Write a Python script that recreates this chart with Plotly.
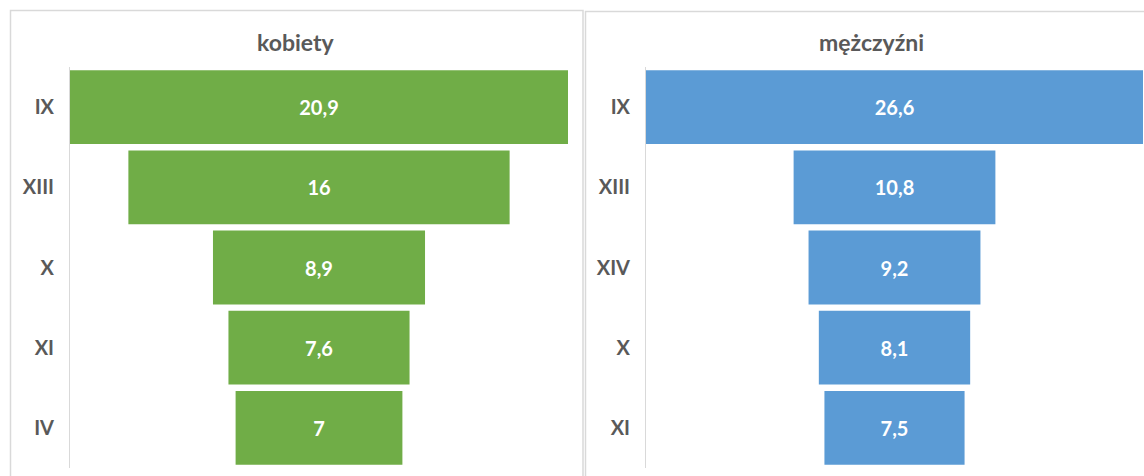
import plotly.graph_objects as go

# Women: top five groups
women_labels = ["IX", "XIII", "X", "XI", "IV"]
women_values = [20.9, 16, 8.9, 7.6, 7]

# Men: top five groups
men_labels = ["IX", "XIII", "XIV", "X", "XI"]
men_values = [26.6, 10.8, 9.2, 8.1, 7.5]

panel_titles = ["kobiety", "mężczyźni"]

W, H = 1144, 476
GREEN = "#70AD47"
BLUE = "#5B9BD5"
GREY_TEXT = "#595959"
BORDER = "#D9D9D9"
FONT = "Lato"


def px_x(v):
    return v / W


def px_y(v):
    return 1 - v / H


fig = go.Figure()

fig.add_trace(go.Funnel(
    y=women_labels, x=women_values,
    marker=dict(color=GREEN, line=dict(width=0)),
    connector=dict(visible=False),
    textposition="inside", texttemplate="%{x}",
    textfont=dict(color="white", size=20, family=FONT, weight="bold"),
    constraintext="none",
    xaxis="x", yaxis="y", hoverinfo="skip",
))
fig.add_trace(go.Funnel(
    y=men_labels, x=men_values,
    marker=dict(color=BLUE, line=dict(width=0)),
    connector=dict(visible=False),
    textposition="inside", texttemplate="%{x}",
    textfont=dict(color="white", size=20, family=FONT, weight="bold"),
    constraintext="none",
    xaxis="x2", yaxis="y2", hoverinfo="skip",
))

y_dom = [px_y(468), px_y(67)]
tick_font = dict(color=GREY_TEXT, size=20, family=FONT, weight="bold")

fig.update_layout(
    width=W, height=H,
    margin=dict(l=0, r=0, t=0, b=0),
    paper_bgcolor="white", plot_bgcolor="white",
    separators=", ",
    funnelgap=0.08,
    showlegend=False,
    xaxis=dict(domain=[px_x(70), px_x(568)],
               range=[-max(women_values) / 2, max(women_values) / 2],
               visible=False, fixedrange=True),
    yaxis=dict(domain=y_dom, anchor="x", autorange="reversed",
               showline=True, linecolor=BORDER, linewidth=1,
               showgrid=False, ticks="", ticklabelstandoff=11,
               tickfont=tick_font),
    xaxis2=dict(domain=[px_x(646), px_x(1143)],
                range=[-max(men_values) / 2, max(men_values) / 2],
                visible=False, fixedrange=True),
    yaxis2=dict(domain=y_dom, anchor="x2", autorange="reversed",
                showline=True, linecolor=BORDER, linewidth=1,
                showgrid=False, ticks="", ticklabelstandoff=11,
                tickfont=tick_font),
)

# Panel frames
fig.add_shape(type="rect", xref="paper", yref="paper",
              x0=px_x(10.5), x1=px_x(583), y0=-0.1, y1=px_y(10.5),
              line=dict(color=BORDER, width=1.5), layer="below")
fig.add_shape(type="rect", xref="paper", yref="paper",
              x0=px_x(585.5), x1=1.1, y0=-0.1, y1=px_y(11.5),
              line=dict(color=BORDER, width=1.5), layer="below")

# Panel titles
for title, cx in zip(panel_titles, [296, 872]):
    fig.add_annotation(text=title, xref="paper", yref="paper",
                       x=px_x(cx), y=px_y(42), showarrow=False,
                       xanchor="center", yanchor="middle",
                       font=dict(color=GREY_TEXT, size=23, family=FONT,
                                 weight="bold"))

fig.write_html("out.html")
